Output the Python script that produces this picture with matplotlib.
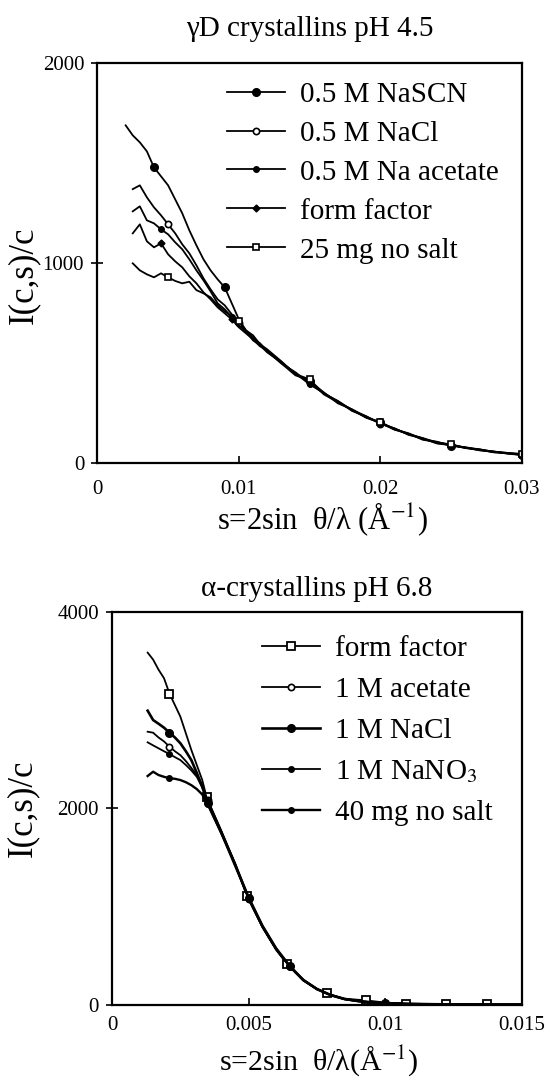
import matplotlib
matplotlib.use("Agg")
import matplotlib.pyplot as plt
import numpy as np

plt.rcParams['font.family'] = ['Liberation Serif', 'DejaVu Serif']
plt.rcParams['mathtext.fontset'] = 'stix'

# ---------------- gamma D crystallins pH 4.5 ----------------
s_gamma = [0.0020, 0.0025, 0.0030, 0.0035, 0.0040, 0.0045, 0.0050, 0.0055, 0.0060, 0.0065,
           0.0070, 0.0075, 0.0080, 0.0085, 0.0090, 0.0095, 0.0100, 0.0105, 0.0110, 0.0115,
           0.0120, 0.0130, 0.0140, 0.0150, 0.0160, 0.0170, 0.0180, 0.0190, 0.0200, 0.0210,
           0.0220, 0.0230, 0.0240, 0.0250, 0.0260, 0.0270, 0.0280, 0.0290, 0.0300]
nan = np.nan
g_nascn = [1690, 1640, 1605, 1560, 1480, 1435, 1390, 1320, 1250, 1165,
           1090, 1020, 965, 920, 880, 800, 720, 665, 640, 595,
           570, 510, 445, 410, 355, 300, 270, 230, 205, 170,
           150, 120, 108, 88, 80, 66, 60, 48, 42]
g_nacl = [nan, 1371, 1390, 1330, 1280, 1240, 1195, 1150, 1095, 1050,
          990, 925, 870, 820, 790, 745, 700, 655, 625, 600,
          560, 500, 455, 400, 350, 310, 262, 235, 198, 175,
          142, 125, 100, 92, 76, 70, 56, 52, 40]
g_acetate = [nan, 1260, 1285, 1215, 1200, 1170, 1145, 1105, 1070, 1020,
             965, 915, 860, 800, 770, 730, 690, 660, 615, 590,
             555, 505, 450, 395, 352, 308, 268, 228, 202, 168,
             148, 118, 106, 90, 78, 65, 58, 50, 46]
g_form = [nan, 1150, 1195, 1110, 1080, 1100, 1045, 1010, 980, 935,
          900, 855, 820, 780, 750, 720, 680, 650, 620, 585,
          565, 500, 440, 415, 345, 305, 268, 235, 200, 174,
          145, 124, 100, 90, 80, 70, 58, 52, 44]
g_nosalt = [nan, 1000, 965, 945, 930, 950, 930, 912, 900, 908,
            866, 850, 830, 790, 760, 735, 710, 665, 628, 592,
            562, 508, 446, 420, 348, 312, 265, 230, 205, 172,
            146, 126, 104, 95, 78, 68, 55, 50, 48]
gamma_labels = ['0.5 M NaSCN', '0.5 M NaCl', '0.5 M Na acetate', 'form factor', '25 mg no salt']
gamma_xticks = [0, 0.01, 0.02, 0.03]
gamma_xticklabels = ['0', '0.01', '0.02', '0.03']
gamma_yticks = [0, 1000, 2000]

# ---------------- alpha crystallins pH 6.8 ----------------
s_alpha = [0.0013, 0.0015, 0.0017, 0.0019, 0.0021, 0.0023, 0.0025, 0.0027, 0.0029, 0.0031,
           0.0033, 0.0035, 0.0040, 0.0045, 0.0050, 0.0055, 0.0060, 0.0065, 0.0070, 0.0075,
           0.0080, 0.0085, 0.0090, 0.0095, 0.0100, 0.0110, 0.0120, 0.0130, 0.0140, 0.0150]
a_acetate = [2779, 2769, 2720, 2680, 2627, 2580, 2540, 2480, 2410, 2340,
             2230, 2080, 1760, 1430, 1080, 800, 570, 390, 250, 160,
             100, 58, 38, 25, 15, 8, 5, 3, 2, 2]
a_nacl = [2993, 2898, 2860, 2820, 2769, 2720, 2661, 2580, 2490, 2360,
          2220, 2050, 1750, 1420, 1090, 805, 575, 395, 252, 160,
          98, 60, 38, 24, 16, 8, 5, 3, 2, 2]
a_nano3 = [2671, 2640, 2610, 2580, 2552, 2520, 2490, 2440, 2385, 2320,
           2210, 2070, 1755, 1425, 1075, 795, 565, 388, 248, 158,
           100, 57, 37, 24, 15, 8, 5, 3, 2, 2]
a_nosalt = [2328, 2372, 2338, 2320, 2305, 2300, 2287, 2265, 2235, 2195,
            2140, 2040, 1745, 1435, 1085, 800, 572, 392, 250, 160,
            100, 58, 38, 25, 15, 8, 5, 3, 2, 2]
s_alpha_ff = [0.0013, 0.0015, 0.0017, 0.0019, 0.0021, 0.0025, 0.0029, 0.0033, 0.00346, 0.0040,
              0.0045, 0.00493, 0.0055, 0.0060, 0.00639, 0.0070, 0.0075, 0.00786, 0.0085, 0.0093,
              0.0100, 0.01075, 0.0115, 0.01224, 0.0130, 0.01373, 0.0150]
a_form = [3584, 3513, 3410, 3323, 3167, 2931, 2593, 2287, 2110, 1770,
          1440, 1110, 790, 560, 420, 255, 160, 115, 62, 45,
          22, 12, 8, 6, 4, 3, 2]
alpha_labels = ['form factor', '1 M acetate', '1 M NaCl', '1 M NaNO$_3$', '40 mg no salt']
alpha_xticks = [0, 0.005, 0.01, 0.015]
alpha_xticklabels = ['0', '0.005', '0.01', '0.015']
alpha_yticks = [0, 2000, 4000]

fig = plt.figure(figsize=(5.47, 10.81), dpi=100)
ax1 = fig.add_axes([0.178, 0.5714, 0.776, 0.370])
ax2 = fig.add_axes([0.205, 0.0705, 0.749, 0.3636])

lw = 1.3
k = 'black'
ax1.plot(s_gamma, g_nascn, color=k, lw=lw, marker='o', ms=5.5, markevery=[4, 14, 23, 28, 33, 38],
         label=gamma_labels[0])
ax1.plot(s_gamma, g_nacl, color=k, lw=lw, marker='o', ms=4.5, mfc='white', mew=1.2,
         markevery=[6, 16, 23, 28, 33, 38], label=gamma_labels[1])
ax1.plot(s_gamma, g_acetate, color=k, lw=lw, marker='o', ms=4, markevery=[5, 15, 23, 28, 33, 38],
         label=gamma_labels[2])
ax1.plot(s_gamma, g_form, color=k, lw=lw, marker='D', ms=3.5, markevery=[5, 15, 23, 28, 33, 38],
         label=gamma_labels[3])
ax1.plot(s_gamma, g_nosalt, color=k, lw=lw, marker='s', ms=5, mfc='white', mew=1.2,
         markevery=[6, 16, 23, 28, 33, 38], label=gamma_labels[4])

am = [4, 11, 14, 17, 24]
ax2.plot(s_alpha_ff, a_form, color=k, lw=lw, marker='s', ms=5.5, mfc='white', mew=1.3,
         markevery=[4, 8, 11, 14, 17, 19, 21, 23, 25], label=alpha_labels[0])
ax2.plot(s_alpha, a_acetate, color=k, lw=lw, marker='o', ms=4.5, mfc='white', mew=1.2,
         markevery=am, label=alpha_labels[1])
ax2.plot(s_alpha, a_nacl, color=k, lw=lw + 0.6, marker='o', ms=5.5, markevery=am, label=alpha_labels[2])
ax2.plot(s_alpha, a_nano3, color=k, lw=lw, marker='o', ms=4, markevery=am, label=alpha_labels[3])
ax2.plot(s_alpha, a_nosalt, color=k, lw=lw + 0.4, marker='o', ms=4, markevery=am, label=alpha_labels[4])

for ax, xt, xtl, yt, xlim, ylim in [(ax1, gamma_xticks, gamma_xticklabels, gamma_yticks, (0, 0.03), (0, 2000)),
                                     (ax2, alpha_xticks, alpha_xticklabels, alpha_yticks, (0, 0.015), (0, 4000))]:
    ax.set_xlim(*xlim)
    ax.set_ylim(*ylim)
    ax.set_xticks(xt)
    ax.set_xticklabels(xtl)
    ax.set_yticks(yt)
    for sp in ax.spines.values():
        sp.set_linewidth(1.6)
    ax.tick_params(axis='y', direction='inout', length=9, width=1.2, labelsize=15, pad=5)
ax1.tick_params(axis='x', direction='in', length=5, width=1.2, labelsize=15, pad=12)
ax2.tick_params(axis='x', direction='in', length=5, width=1.2, labelsize=15, pad=8)

ax1.set_ylabel('I(c,s)/c', fontsize=25)
ax2.set_ylabel('I(c,s)/c', fontsize=25)
ax1.yaxis.set_label_coords(-0.135, 0.47)
ax2.yaxis.set_label_coords(-0.178, 0.5)
ax1.set_title('γD crystallins pH 4.5', fontsize=21, pad=20)
ax2.set_title('α-crystallins pH 6.8', fontsize=21, pad=11)
ax1.set_xlabel('s=2sin  θ/λ (Å$^{-1}$)', fontsize=22)
ax2.set_xlabel('s=2sin  θ/λ(Å$^{-1}$)', fontsize=21.5)
ax1.xaxis.set_label_coords(0.529, -0.092)
ax2.xaxis.set_label_coords(0.505, -0.098)

ax1.legend(loc='upper left', bbox_to_anchor=(0.305, 0.955), frameon=False, fontsize=21,
           handlelength=2.0, handletextpad=0.5, labelspacing=0.43, borderpad=0, borderaxespad=0)
ax2.legend(loc='upper left', bbox_to_anchor=(0.365, 0.94), frameon=False, fontsize=21,
           handlelength=2.0, handletextpad=0.5, labelspacing=0.5, borderpad=0, borderaxespad=0)

fig.savefig('out.png', dpi=100)
